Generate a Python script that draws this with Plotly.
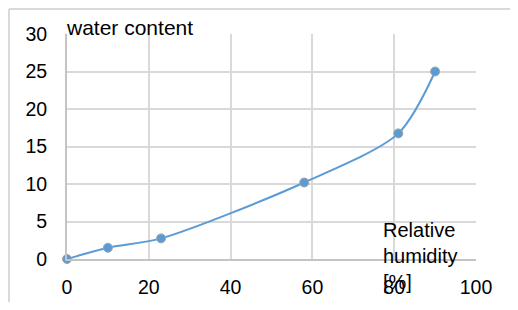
import plotly.graph_objects as go

humidity = [0, 10, 23, 58, 81, 90]
water = [0, 1.5, 2.75, 10.2, 16.75, 25.0]
x_ticks = [0, 20, 40, 60, 80, 100]
y_ticks = [0, 5, 10, 15, 20, 25, 30]

fig = go.Figure()
fig.add_trace(go.Scatter(
    x=humidity, y=water, mode="lines+markers",
    line=dict(color="#5b9bd5", width=2, shape="spline", smoothing=0.8),
    marker=dict(color="#5b9bd5", size=9, line=dict(color="#a5a5a5", width=1)),
    showlegend=False, cliponaxis=False,
))

font = dict(family="Liberation Sans, Arial, sans-serif", size=21, color="#000000")

fig.update_layout(
    width=502, height=294,
    margin=dict(l=59, r=34, t=26, b=43),
    paper_bgcolor="white", plot_bgcolor="white",
    font=font,
    xaxis=dict(range=[0, 100], tickvals=x_ticks, showgrid=True, gridcolor="#d9d9d9", gridwidth=2,
               zeroline=False, showline=True, linecolor="#c4c4c4", linewidth=2, ticks="",
               ticklabelstandoff=10, tickfont=dict(size=19.5), automargin=False),
    yaxis=dict(range=[0, 30], tickvals=y_ticks, showgrid=True, gridcolor="#d9d9d9", gridwidth=2,
               zeroline=False, showline=True, linecolor="#c4c4c4", linewidth=2, ticks="",
               ticklabelstandoff=14, tickfont=dict(size=19.5), automargin=False),
    shapes=[
        dict(type="line", xref="paper", yref="paper", x0=-0.1418, x1=1.2, y0=1.111, y1=1.111,
             line=dict(color="#d9d9d9", width=2)),
        dict(type="line", xref="paper", yref="paper", x0=-0.1418, x1=-0.1418, y0=-0.3, y1=1.111,
             line=dict(color="#d9d9d9", width=2)),
    ],
    annotations=[
        dict(text="water content", xref="paper", yref="paper", x=0, y=1.0, xanchor="left",
             yanchor="bottom", yshift=-7, xshift=-3, showarrow=False, font=font),
        dict(text="Relative<br>humidity<br>[%]", xref="x", yref="y", x=76.8, y=5.6, xanchor="left",
             yanchor="top", showarrow=False, align="left", font=dict(family=font["family"], size=20, color="#000000")),
    ],
)

fig.write_html("out.html", config={"displayModeBar": False})
